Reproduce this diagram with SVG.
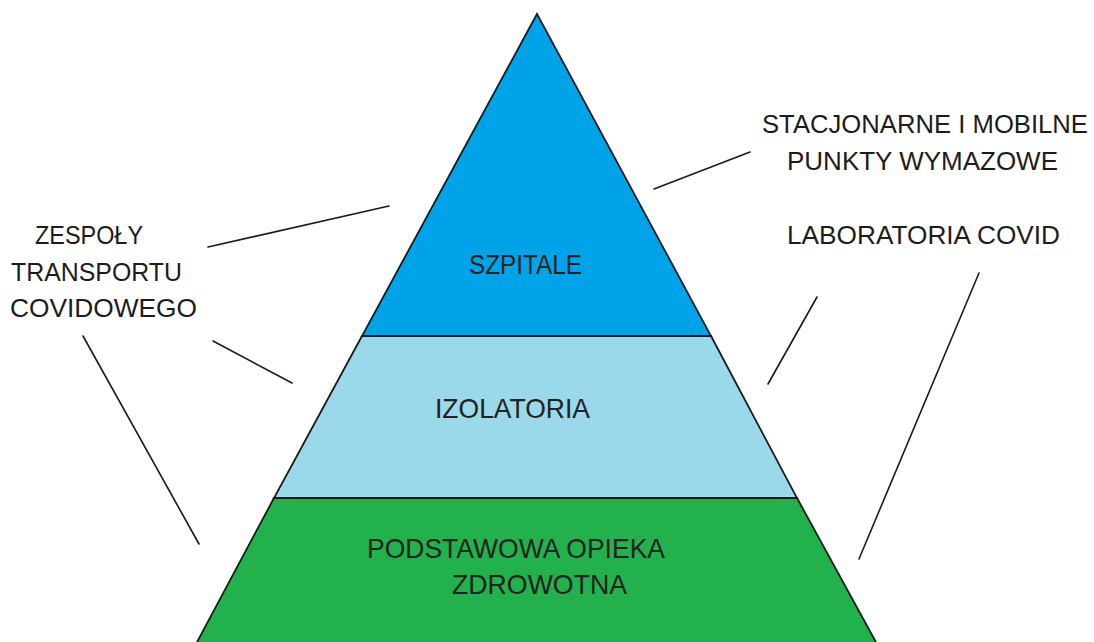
<svg xmlns="http://www.w3.org/2000/svg" width="1094" height="642" viewBox="0 0 1094 642">
<style>
.tier{stroke:#1a1a1a;stroke-width:1.8;stroke-linejoin:miter}
.lbl{font-family:"Liberation Sans",Arial,sans-serif;font-size:26px;fill:#1c1c1c}
.in{font-family:"Liberation Sans",Arial,sans-serif;font-size:28px;fill:#222}
.conn line{stroke:#1a1a1a;stroke-width:1.6;stroke-linecap:round}
</style>
<rect width="1094" height="642" fill="#ffffff"/>
<g id="tier-szpitale">
<polygon class="tier" points="537,14 711,336 362,336" fill="#00a2e8"/>
<text class="in" x="469" y="274" textLength="113" lengthAdjust="spacingAndGlyphs">SZPITALE</text>
</g>
<g id="tier-izolatoria">
<polygon class="tier" points="362,336 711,336 797,498 274,498" fill="#99d9ea"/>
<text class="in" x="435" y="418" textLength="155" lengthAdjust="spacingAndGlyphs">IZOLATORIA</text>
</g>
<g id="tier-poz">
<polygon class="tier" points="274,498 797,498 877,644 196,644" fill="#22b14c"/>
<text class="in" x="367" y="558" textLength="298" lengthAdjust="spacingAndGlyphs">PODSTAWOWA OPIEKA</text>
<text class="in" x="452" y="594" textLength="175" lengthAdjust="spacingAndGlyphs">ZDROWOTNA</text>
</g>
<g id="label-zespoly">
<text class="lbl" x="35" y="244" textLength="108" lengthAdjust="spacingAndGlyphs">ZESPOŁY</text>
<text class="lbl" x="11" y="281" textLength="171" lengthAdjust="spacingAndGlyphs">TRANSPORTU</text>
<text class="lbl" x="10" y="317" textLength="187" lengthAdjust="spacingAndGlyphs">COVIDOWEGO</text>
</g>
<g id="label-punkty">
<text class="lbl" x="762" y="133" textLength="326" lengthAdjust="spacingAndGlyphs">STACJONARNE I MOBILNE</text>
<text class="lbl" x="787" y="170" textLength="271" lengthAdjust="spacingAndGlyphs">PUNKTY WYMAZOWE</text>
</g>
<g id="label-laboratoria">
<text class="lbl" x="787" y="244" textLength="273" lengthAdjust="spacingAndGlyphs">LABORATORIA COVID</text>
</g>
<g id="connectors" class="conn">
<line x1="208" y1="247" x2="389" y2="206"/>
<line x1="213" y1="341" x2="292" y2="383"/>
<line x1="83" y1="336" x2="199" y2="544"/>
<line x1="654" y1="189" x2="750" y2="152"/>
<line x1="817" y1="297" x2="768" y2="384"/>
<line x1="979" y1="273" x2="859" y2="559"/>
</g>
</svg>
